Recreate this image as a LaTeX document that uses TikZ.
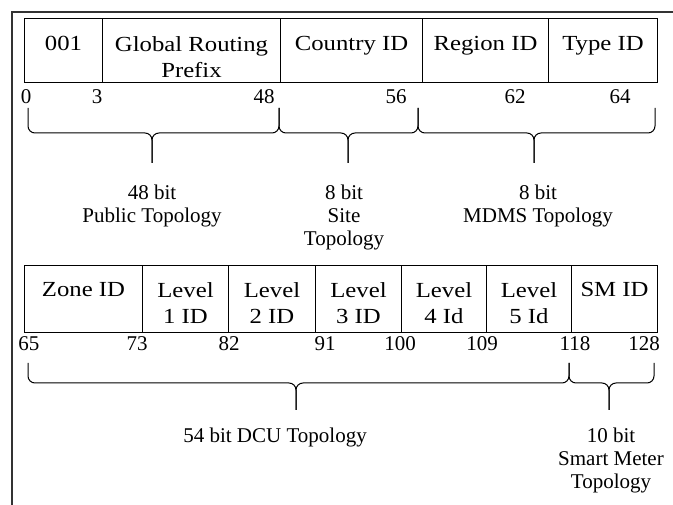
\documentclass[tikz,border=0pt]{standalone}
\usepackage{fontspec}
\setmainfont{Liberation Serif}
\newfontfamily\wideserif[FakeStretch=1.15]{Liberation Serif}
\usetikzlibrary{positioning}
\tikzstyle{frame} = [
  line width=1.3pt,
  black!80,
]
\tikzstyle{field} = [
  draw,
  rectangle,
  line width=1pt,
  anchor=north west,
  inner sep=0pt,
]
\tikzstyle{fieldname} = [
  align=center,
  inner sep=0pt,
  font=\wideserif\fontsize{21.5}{26}\selectfont,
]
\tikzstyle{bitpos} = [
  anchor=base,
  inner sep=0pt,
  font=\fontsize{21}{26}\selectfont,
]
\tikzstyle{bracket} = [
  line width=1pt,
  rounded corners=7pt,
]
\tikzstyle{topology} = [
  align=center,
  inner sep=0pt,
  font=\fontsize{21}{23}\selectfont,
]

\begin{document}
\begin{tikzpicture}[
    x=1pt,
    y=-1pt,
  ]
  \useasboundingbox (0,0) rectangle (673,505);
  \draw[frame] (673,12) -- (12,12) -- (12,505);

  % upper address half
  \node[field, minimum width=78pt, minimum height=64pt]
    (pfx) at (24,18) {};
  \node[field, minimum width=178pt, minimum height=64pt]
    (grp) at (102,18) {};
  \node[field, minimum width=142pt, minimum height=64pt]
    (ctry) at (280,18) {};
  \node[field, minimum width=126pt, minimum height=64pt]
    (rgn) at (422,18) {};
  \node[field, minimum width=109pt, minimum height=64pt]
    (typ) at (548,18) {};
  \node[fieldname, below=18pt of pfx.north] (pfxt) {001};
  \node[fieldname, below=18pt of grp.north] (grpt) {Global Routing\\Prefix};
  \node[fieldname, below=18pt of ctry.north] (ctryt) {Country ID};
  \node[fieldname, below=18pt of rgn.north] (rgnt) {Region ID};
  \node[fieldname, below=18pt of typ.north] (typt) {Type ID};

  \node[bitpos] (b0) at (26,104) {0};
  \node[bitpos] (b3) at (97,104) {3};
  \node[bitpos] (b48) at (264,104) {48};
  \node[bitpos] (b56) at (396,104) {56};
  \node[bitpos] (b62) at (515,104) {62};
  \node[bitpos] (b64) at (620,104) {64};

  \coordinate (pubtip) at (152,163);
  \coordinate (sitetip) at (348,163);
  \coordinate (mdmstip) at (534,163);
  \draw[bracket] (28,108) -- (28,133) -- (152,133) -- (pubtip);
  \draw[bracket] (279,108) -- (279,133) -- (152,133) -- (pubtip);
  \draw[bracket] (279,108) -- (279,133) -- (348,133) -- (sitetip);
  \draw[bracket] (418,108) -- (418,133) -- (348,133) -- (sitetip);
  \draw[bracket] (418,108) -- (418,133) -- (534,133) -- (mdmstip);
  \draw[bracket] (655,108) -- (655,133) -- (534,133) -- (mdmstip);
  \node[topology, below=22pt of pubtip] (pub) {48 bit\\Public Topology};
  \node[topology, below=22pt of sitetip, xshift=-4pt] (site) {8 bit\\Site\\Topology};
  \node[topology, below=22pt of mdmstip, xshift=4pt] (mdms) {8 bit\\MDMS Topology};

  % lower address half
  \node[field, minimum width=118pt, minimum height=67pt]
    (zone) at (24,265) {};
  \node[field, minimum width=86pt, minimum height=67pt]
    (lvla) at (142,265) {};
  \node[field, minimum width=87pt, minimum height=67pt]
    (lvlb) at (228,265) {};
  \node[field, minimum width=86pt, minimum height=67pt]
    (lvlc) at (315,265) {};
  \node[field, minimum width=85pt, minimum height=67pt]
    (lvld) at (401,265) {};
  \node[field, minimum width=85pt, minimum height=67pt]
    (lvle) at (486,265) {};
  \node[field, minimum width=86pt, minimum height=67pt]
    (smid) at (571,265) {};
  \node[fieldname, below=17pt of zone.north] (zonet) {Zone ID};
  \node[fieldname, below=17pt of lvla.north] (lvlat) {Level\\1 ID};
  \node[fieldname, below=17pt of lvlb.north] (lvlbt) {Level\\2 ID};
  \node[fieldname, below=17pt of lvlc.north] (lvlct) {Level\\3 ID};
  \node[fieldname, below=17pt of lvld.north] (lvldt) {Level\\4 Id};
  \node[fieldname, below=17pt of lvle.north] (lvlet) {Level\\5 Id};
  \node[fieldname, below=17pt of smid.north] (smidt) {SM ID};

  \node[bitpos] (b65) at (29,351) {65};
  \node[bitpos] (b73) at (137,351) {73};
  \node[bitpos] (b82) at (229,351) {82};
  \node[bitpos] (b91) at (325,351) {91};
  \node[bitpos] (b100) at (400,351) {100};
  \node[bitpos] (b109) at (482,351) {109};
  \node[bitpos] (b118) at (575,351) {118};
  \node[bitpos] (b128) at (644,351) {128};

  \coordinate (dcutip) at (296,410);
  \coordinate (smtip) at (609,410);
  \draw[bracket] (28,363) -- (28,383) -- (296,383) -- (dcutip);
  \draw[bracket] (569,363) -- (569,383) -- (296,383) -- (dcutip);
  \draw[bracket] (569,363) -- (569,383) -- (609,383) -- (smtip);
  \draw[bracket] (654,363) -- (654,383) -- (609,383) -- (smtip);
  \node[topology, below=18pt of dcutip, xshift=-21pt] (dcu) {54 bit DCU Topology};
  \node[topology, below=18pt of smtip, xshift=2pt] (sm) {10 bit\\Smart Meter\\Topology};
\end{tikzpicture}
\end{document}
